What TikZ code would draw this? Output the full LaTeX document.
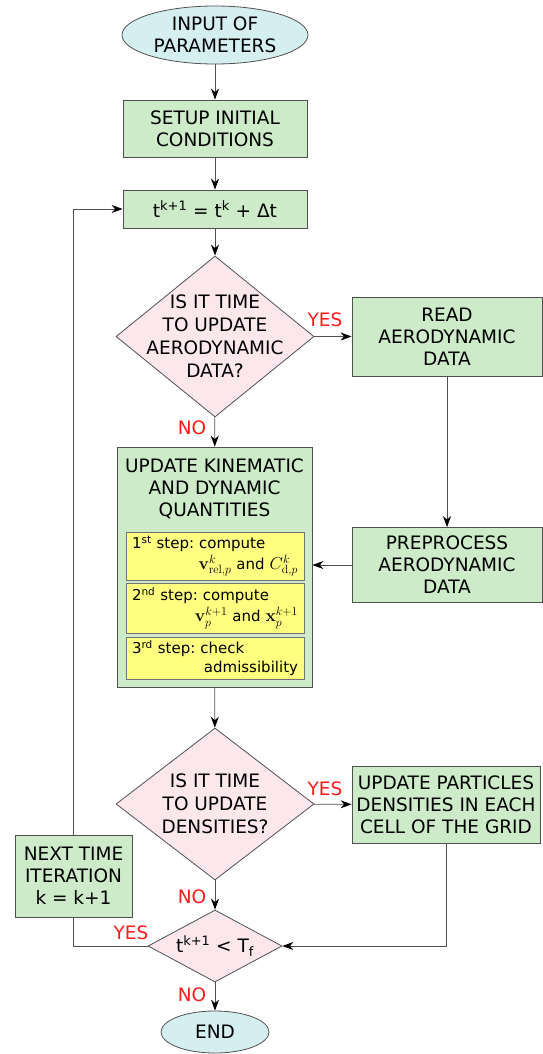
\documentclass[tikz,border=0pt]{standalone}
\usepackage[no-math]{fontspec}
\setmainfont{DejaVu Sans}
\usetikzlibrary{shapes.geometric,arrows.meta}
\definecolor{gfill}{HTML}{CDEBC9}
\definecolor{cfill}{HTML}{D5EFF0}
\definecolor{pfill}{HTML}{FCE8EC}
\definecolor{yfill}{HTML}{FFFF80}
\definecolor{lred}{HTML}{FF1A1A}
\definecolor{edge}{HTML}{505050}
\newcommand{\bigmath}[1]{{\fontsize{16.5}{21}\selectfont$#1$}}
\begin{document}
\frenchspacing
\begin{tikzpicture}[x=1pt,y=-1pt,
 base/.style={draw=edge, line width=0.8pt, align=center, font=\fontsize{18.5}{22}\selectfont, inner sep=0pt},
 term/.style={base, ellipse, fill=cfill},
 proc/.style={base, rectangle, fill=gfill},
 dec/.style={base, diamond, fill=pfill},
 dectext/.style={align=center, font=\fontsize{18.5}{23}\selectfont, inner sep=0pt},
 sub/.style={draw=edge!80, line width=0.6pt, fill=yfill, rectangle, minimum width=178pt, text width=166pt, inner sep=0pt, align=left, font=\fontsize{15}{21}\selectfont},
 arr/.style={draw=edge, line width=0.8pt, -{Stealth[length=11pt,width=8pt,inset=3.5pt,color=black]}},
 lbl/.style={text=lred, font=\fontsize{18.5}{19}\selectfont, inner sep=0pt}]
\useasboundingbox (0,0) rectangle (543,1054);

\node[term, minimum width=186pt, minimum height=58pt] (in) at (215,35) {INPUT OF\\PARAMETERS};
\node[proc, minimum width=184pt, minimum height=57pt] (setup) at (215,128.5) {SETUP INITIAL\\CONDITIONS};
\node[proc, minimum width=184pt, minimum height=38pt] (t) at (215,209) {t\textsuperscript{k+1} = t\textsuperscript{k} + Δt};
\node[dec, minimum width=198pt, minimum height=161pt, label={[dectext]center:{IS IT TIME\\TO UPDATE\\AERODYNAMIC\\DATA?}}] (d1) at (215,336.5) {};
\node[proc, minimum width=190pt, minimum height=79pt] (read) at (447,336.5) {READ\\AERODYNAMIC\\DATA};
\node[proc, minimum width=190pt, minimum height=75pt] (pre) at (447,565) {PREPROCESS\\AERODYNAMIC\\DATA};

\node[proc, minimum width=195pt, minimum height=240pt] (kin) at (214.5,567) {};
\node[base, draw=none] (kintitle) at (214.5,489) {UPDATE KINEMATIC\\AND DYNAMIC\\QUANTITIES};
\node[sub, minimum height=48pt] (s1) at (215,556) {1\textsuperscript{st} step: compute\\\mbox{}\hfill\bigmath{\mathbf{v}^{k}_{\mathrm{rel},p}} and \bigmath{C^{k}_{\mathrm{d},p}}};
\node[sub, minimum height=50pt] (s2) at (215,608) {2\textsuperscript{nd} step: compute\\\mbox{}\hfill\bigmath{\mathbf{v}^{k+1}_{p}} and \bigmath{\mathbf{x}^{k+1}_{p}}};
\node[sub, minimum height=42pt, font=\fontsize{15}{19}\selectfont] (s3) at (215,658) {3\textsuperscript{rd} step: check\\\mbox{}\hfill admissibility};

\node[dec, minimum width=198pt, minimum height=152pt, label={[dectext]center:{IS IT TIME\\TO UPDATE\\DENSITIES?}}] (d2) at (215,804) {};
\node[proc, minimum width=188pt, minimum height=77pt] (part) at (446,804.5) {UPDATE PARTICLES\\DENSITIES IN EACH\\CELL OF THE GRID};
\node[proc, minimum width=117pt, minimum height=82pt] (next) at (73.5,876) {NEXT TIME\\ITERATION\\k = k+1};
\node[dec, minimum width=134pt, minimum height=72pt, label={[dectext]center:{t\textsuperscript{k+1} < T\textsubscript{f}}}] (d3) at (215,946) {};
\node[term, minimum width=108pt, minimum height=42pt] (end) at (215,1032) {END};

\draw[arr] (in) -- (setup);
\draw[arr] (setup) -- (t);
\draw[arr] (t) -- (d1);
\draw[arr] (d1) -- (read);
\draw[arr] (d1) -- (kin);
\draw[arr] (read) -- (pre);
\draw[arr] (pre.west) -- (pre.west -| kin.east);
\draw[arr] (kin) -- (d2);
\draw[arr] (d2) -- (part);
\draw[arr] (d2) -- (d3);
\draw[arr] (part.south) |- (d3.east);
\draw[arr] (d3) -- (end);
\draw[draw=edge, line width=0.8pt] (d3.west) -| (next.south);
\draw[arr] (next.north) |- (t.west);

\node[lbl] (y1) at (325,320) {YES};
\node[lbl] (n1) at (192,428) {NO};
\node[lbl] (y2) at (325,789) {YES};
\node[lbl] (n2) at (192,897) {NO};
\node[lbl] (y3) at (131,933) {YES};
\node[lbl] (n3) at (192,995) {NO};
\end{tikzpicture}
\end{document}
